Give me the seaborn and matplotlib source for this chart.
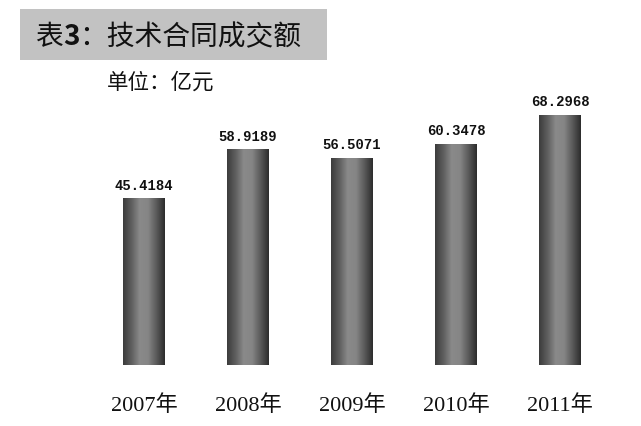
import numpy as np
import pandas as pd
import seaborn as sns
import matplotlib.pyplot as plt
from matplotlib.colors import LinearSegmentedColormap
from matplotlib.patches import Rectangle

years = ['2007年', '2008年', '2009年', '2010年', '2011年']
values = [45.4184, 58.9189, 56.5071, 60.3478, 68.2968]
value_labels = ['45.4184', '58.9189', '56.5071', '60.3478', '68.2968']

df = pd.DataFrame({'year': years, 'value': values})

sns.set_theme(style='white')
plt.rcParams['font.family'] = ['Liberation Serif', 'Noto Sans CJK SC']

fig = plt.figure(figsize=(6.41, 4.27), dpi=100)
ax = fig.add_axes([92 / 641, 61 / 427, 520 / 641, 256 / 427])

sns.barplot(data=df, x='year', y='value', ax=ax, width=0.40, color='#555555')

# cylinder-like shading on each bar
cmap = LinearSegmentedColormap.from_list(
    'cyl', ['#3c3c3c', '#5e5e5e', '#8a8a8a', '#858585', '#5a5a5a', '#2c2c2c'])
grad = np.linspace(0, 1, 256).reshape(1, -1)
for p in ax.patches:
    x0, y0 = p.get_x(), p.get_y()
    w, h = p.get_width(), p.get_height()
    p.set_visible(False)
    ax.imshow(grad, cmap=cmap, aspect='auto', extent=[x0, x0 + w, y0, y0 + h],
              interpolation='bilinear', zorder=2)
ax.set_xlim(-0.5, 4.5)
ax.set_ylim(0, 70)

for i, (v, lab) in enumerate(zip(values, value_labels)):
    ax.annotate(lab, (i, v), xytext=(0, 5), textcoords='offset points',
                ha='center', va='bottom', fontsize=10, fontweight='bold',
                family=['Liberation Mono'], color='#111111')

ax.set_xticks(range(len(years)))
ax.set_xticklabels(years, fontsize=16, color='#111111')
ax.tick_params(axis='x', length=0, pad=21)
ax.set_yticks([])
ax.set_xlabel('')
ax.set_ylabel('')
sns.despine(ax=ax, left=True, bottom=True)

# title box
fig.patches.append(Rectangle((20 / 641, 1 - 61 / 427), 307 / 641, 51 / 427,
                             transform=fig.transFigure, facecolor='#c2c2c2',
                             edgecolor='none', zorder=0))

renderer = fig.canvas.get_renderer()
x = 35
for piece, weight in [('表', 'normal'), ('3', 'bold'), ('：技术合同成交额', 'normal')]:
    t = fig.text(x / 641, 1 - 37 / 427, piece, fontsize=20, fontweight=weight,
                 family=['Noto Sans CJK SC'], va='center', ha='left', color='#111111')
    x += t.get_window_extent(renderer).width

fig.text(107 / 641, 1 - 83 / 427, '单位：亿元', fontsize=15.5,
         family=['Noto Sans CJK SC'], va='center', ha='left', color='#111111')

fig.savefig('out.png', dpi=100)
